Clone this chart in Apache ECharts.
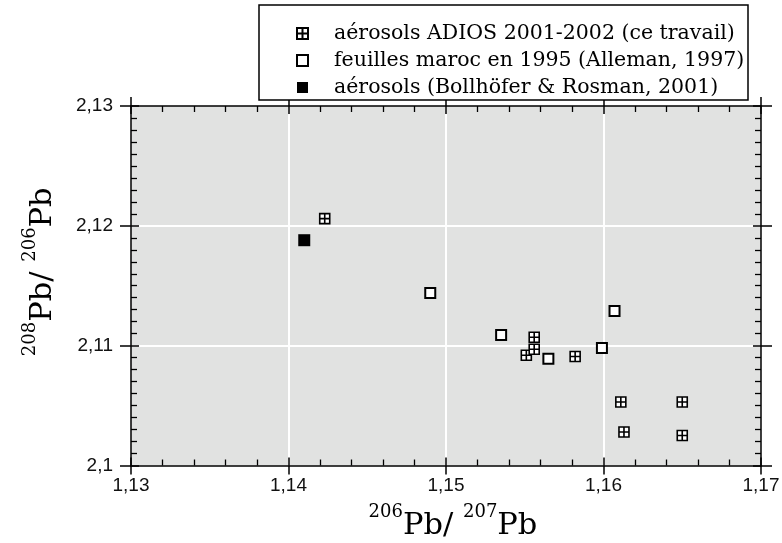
<!DOCTYPE html>
<html>
<head>
<meta charset="utf-8">
<script src="https://cdn.jsdelivr.net/npm/echarts@6/dist/echarts.min.js"></script>
<style>html,body{margin:0;padding:0;background:#fff}#c{width:782px;height:543px}</style>
</head>
<body>
<div id="c"></div>
<script>
// Data
const adiosX = [1.1423, 1.1551, 1.1556, 1.1556, 1.1582, 1.1611, 1.1650, 1.1613, 1.1650];
const adiosY = [2.1206, 2.1092, 2.1107, 2.1097, 2.1091, 2.1053, 2.1053, 2.1028, 2.1025];
const marocX = [1.1490, 1.1535, 1.1565, 1.1599, 1.1607];
const marocY = [2.1144, 2.1109, 2.1089, 2.1098, 2.1129];
const bollX = [1.1410];
const bollY = [2.1188];
const xTicks = [1.13, 1.14, 1.15, 1.16, 1.17];
const yTicks = [2.10, 2.11, 2.12, 2.13];
const seriesNames = [
  'aérosols ADIOS 2001-2002 (ce travail)',
  'feuilles maroc en 1995 (Alleman, 1997)',
  'aérosols (Bollhöfer & Rosman, 2001)'
];

const pairs = (xs, ys) => xs.map((x, i) => [x, ys[i]]);
const fmt = v => String(Math.round(v * 1000) / 1000).replace('.', ',');
const crossPath = 'path://M0,0L10,0L10,10L0,10Z M5,0L5,10 M0,5L10,5';
const serif = '"DejaVu Serif", "Liberation Serif", serif';
const sans = '"Liberation Sans", Arial, sans-serif';

const gridRect = { left: 131, top: 106, width: 630, height: 359.5 };
const xMin = xTicks[0], xMax = xTicks[xTicks.length - 1];
const yMin = yTicks[0], yMax = yTicks[yTicks.length - 1];

const nameRich = {
  sup: { fontFamily: serif, fontSize: 18, verticalAlign: 'top', lineHeight: 38, padding: [0, 0, 12, 0] },
  pb: { fontFamily: serif, fontSize: 30.5, verticalAlign: 'bottom', lineHeight: 38 }
};

function xAx(pos, inside, extra) {
  return Object.assign({
    type: 'value', gridIndex: 0, position: pos, min: xMin, max: xMax, interval: 0.01,
    axisLine: { show: inside, onZero: false, lineStyle: { color: '#000', width: 1.5 } },
    axisTick: { show: true, inside: inside, length: inside ? 8 : 9, lineStyle: { color: '#000', width: 1.5 } },
    minorTick: { show: inside, splitNumber: 5, length: 6, lineStyle: { color: '#000', width: 1.3 } },
    axisLabel: { show: false },
    splitLine: { show: false }
  }, extra || {});
}
function yAx(pos, inside, extra) {
  return Object.assign({
    type: 'value', gridIndex: 0, position: pos, min: yMin, max: yMax, interval: 0.01,
    axisLine: { show: inside, onZero: false, lineStyle: { color: '#000', width: 1.5 } },
    axisTick: { show: true, inside: inside, length: inside ? 8 : 11, lineStyle: { color: '#000', width: 1.5 } },
    minorTick: { show: inside, splitNumber: 10, length: 6, lineStyle: { color: '#000', width: 1.3 } },
    axisLabel: { show: false },
    splitLine: { show: false }
  }, extra || {});
}

const chart = echarts.init(document.getElementById('c'), null, { renderer: 'canvas' });
chart.setOption({
  animation: false,
  backgroundColor: '#fff',
  grid: [
    Object.assign({ show: true, backgroundColor: '#e1e2e1', borderWidth: 0, containLabel: false, outerBoundsMode: 'none' }, gridRect)
  ],
  graphic: [{
    type: 'rect', z: 1,
    shape: { x: 259, y: 5, width: 489, height: 95 },
    style: { fill: '#fff', stroke: '#000', lineWidth: 1.5 }
  }],
  legend: {
    orient: 'vertical', left: 291, top: 18, z: 10,
    itemWidth: 11, itemHeight: 11, itemGap: 6,
    textStyle: { fontFamily: serif, fontSize: 20.5, color: '#000', lineHeight: 21, padding: [0, 0, 0, 21] },
    data: [
      { name: seriesNames[0], icon: crossPath },
      { name: seriesNames[1], icon: 'rect' },
      { name: seriesNames[2], icon: 'rect' }
    ]
  },
  xAxis: [
    xAx('bottom', true, {
      axisLabel: { show: true, formatter: fmt, margin: 11, fontFamily: sans, fontSize: 19, color: '#111' },
      splitLine: { show: true, showMinLine: false, showMaxLine: false, lineStyle: { color: '#fff', width: 2 } },
      name: '{sup|206}{pb|Pb/ }{sup|207}{pb|Pb}', nameLocation: 'middle', nameGap: 38,
      nameTextStyle: { rich: nameRich, padding: [0, 0, 0, 14] }
    }),
    xAx('top', true),
    xAx('bottom', false),
    xAx('top', false)
  ],
  yAxis: [
    yAx('left', true, {
      axisLabel: { show: true, formatter: fmt, margin: 18, fontFamily: sans, fontSize: 19, color: '#111' },
      splitLine: { show: true, showMinLine: false, showMaxLine: false, lineStyle: { color: '#fff', width: 2 } },
      name: '{sup|208}{pb|Pb/ }{sup|206}{pb|Pb}', nameLocation: 'middle', nameGap: 72, nameRotate: 90,
      nameTextStyle: { rich: nameRich, padding: [0, 0, 0, 28] }
    }),
    yAx('right', true),
    yAx('left', false),
    yAx('right', false)
  ],
  series: [
    {
      name: seriesNames[0], type: 'scatter', xAxisIndex: 0, yAxisIndex: 0, z: 5,
      symbol: crossPath, symbolSize: 10,
      itemStyle: { color: '#fff', borderColor: '#000', borderWidth: 1.6, opacity: 1 },
      data: pairs(adiosX, adiosY)
    },
    {
      name: seriesNames[1], type: 'scatter', xAxisIndex: 0, yAxisIndex: 0, z: 4,
      symbol: 'rect', symbolSize: 10,
      itemStyle: { color: '#fff', borderColor: '#000', borderWidth: 2, opacity: 1 },
      data: pairs(marocX, marocY)
    },
    {
      name: seriesNames[2], type: 'scatter', xAxisIndex: 0, yAxisIndex: 0, z: 4,
      symbol: 'rect', symbolSize: 12,
      itemStyle: { color: '#000', borderColor: '#000', borderWidth: 0, opacity: 1 },
      data: pairs(bollX, bollY)
    },
    { type: 'scatter', xAxisIndex: 2, yAxisIndex: 2, data: [], silent: true },
    { type: 'scatter', xAxisIndex: 3, yAxisIndex: 3, data: [], silent: true }
  ]
});
</script>
</body>
</html>
